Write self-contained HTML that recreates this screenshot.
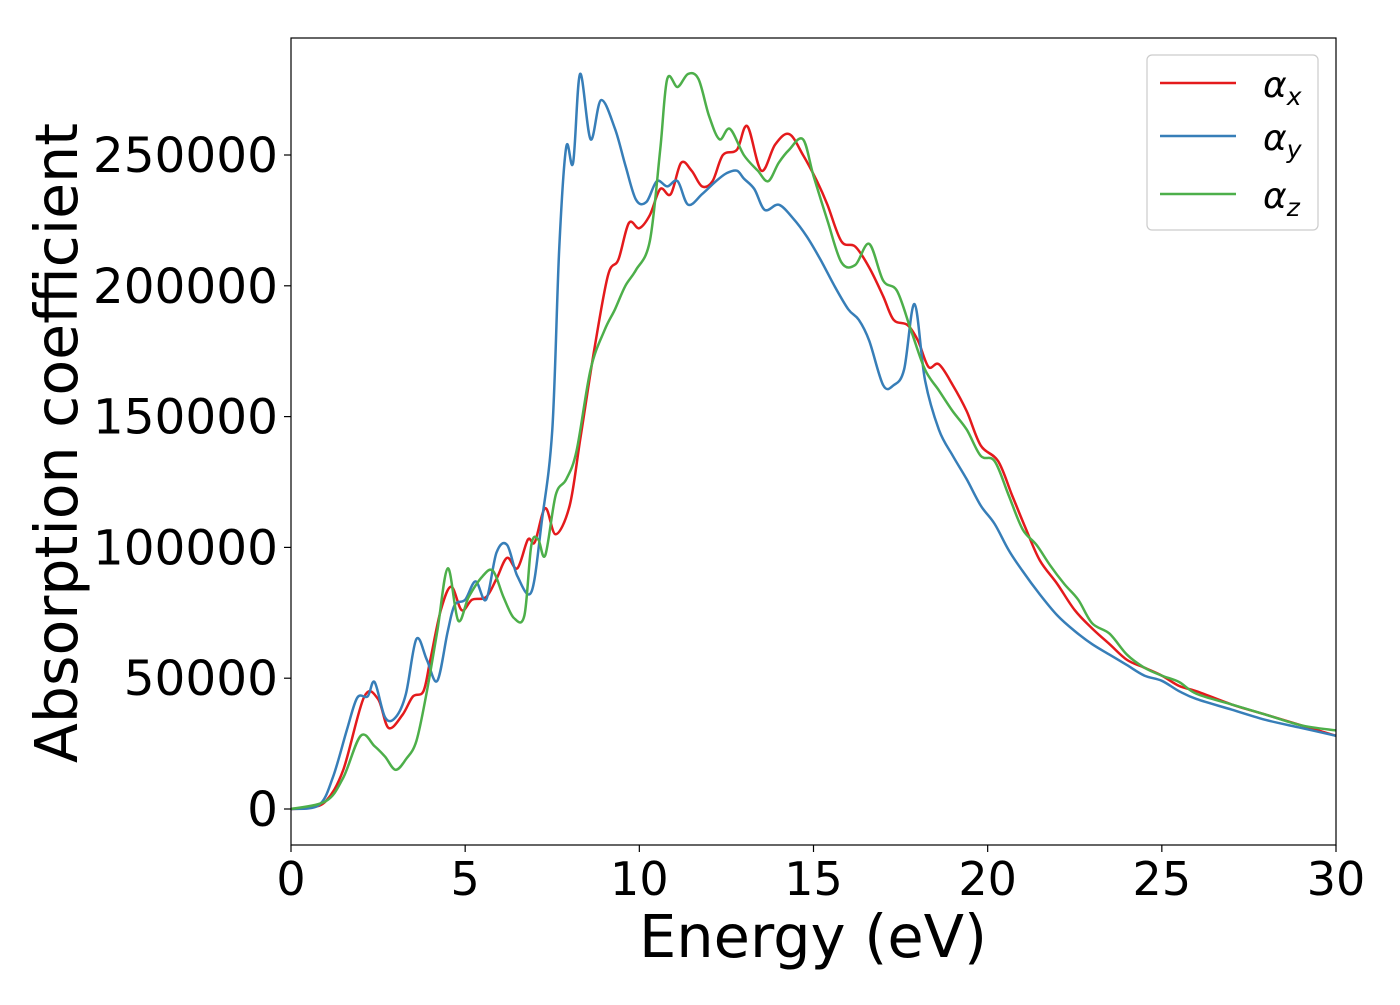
<!DOCTYPE html>
<html><head><meta charset="utf-8"><style>
html,body{margin:0;padding:0;background:#fff;}
svg text{font-family:"DejaVu Sans","Liberation Sans",sans-serif;}
</style></head><body>
<svg id="chart" width="1400" height="1000" xmlns="http://www.w3.org/2000/svg">
<rect width="1400" height="1000" fill="#fff"/>
<g id="series"></g>
<rect x="291" y="38" width="1045" height="807" fill="none" stroke="#000" stroke-width="1.2"/>
<g id="xticks"></g>
<g id="yticks"></g>
<text x="813" y="957" font-size="59" text-anchor="middle">Energy (eV)</text>
<text transform="translate(77,443) rotate(-90)" font-size="58.5" text-anchor="middle">Absorption coefficient</text>
<g>
<rect x="1147" y="55" width="171" height="175" rx="5" fill="#fff" stroke="#ccc" stroke-width="1.2"/>
<line x1="1160" y1="83" x2="1236" y2="83" stroke="#e41a1c" stroke-width="2.5"/>
<text x="1263" y="97" font-size="36" font-style="italic">α<tspan font-size="25" dy="8">x</tspan></text>
<line x1="1160" y1="136" x2="1236" y2="136" stroke="#377eb8" stroke-width="2.5"/>
<text x="1263" y="150" font-size="36" font-style="italic">α<tspan font-size="25" dy="8">y</tspan></text>
<line x1="1160" y1="194" x2="1236" y2="194" stroke="#4daf4a" stroke-width="2.5"/>
<text x="1263" y="208" font-size="36" font-style="italic">α<tspan font-size="25" dy="8">z</tspan></text>
</g>
</svg>
<script>
const xTicks=[0,5,10,15,20,25,30];
const yTicks=[0,50000,100000,150000,200000,250000];
const exE=[0,0.5,1,1.5,2.1,2.5,2.8,3.2,3.5,3.8,4.0,4.3,4.6,4.9,5.2,5.6,5.9,6.2,6.5,6.8,7.0,7.3,7.6,8.0,8.3,8.7,9.1,9.4,9.7,10,10.3,10.6,10.9,11.2,11.5,11.8,12.1,12.4,12.8,13.1,13.5,13.9,14.3,14.7,15.1,15.4,15.8,16.2,16.6,17,17.3,17.7,18,18.3,18.6,19,19.4,19.8,20.3,20.7,21.1,21.5,22,22.5,23,23.5,24,24.5,25,25.5,26,27,28,29,30];
const exV=[0,500,3000,15000,42800,42000,31000,36000,43000,45000,57000,76000,85000,76000,80000,81000,88000,96000,92000,103000,102000,115000,105000,116000,141000,175000,204000,210000,224000,222000,227000,237000,235000,247000,244000,238000,240000,250000,252000,261000,244000,254000,258000,250000,240000,231000,217000,215000,207000,196000,187000,185000,179000,169000,170000,162000,152000,139000,133000,120000,107000,95000,86000,76000,69000,63000,57000,54000,51000,47000,45000,40000,36000,32000,28000];
const eyE=[0,0.8,1.2,1.6,1.9,2.2,2.4,2.7,3.0,3.3,3.6,3.9,4.2,4.5,4.7,5.0,5.3,5.6,5.9,6.2,6.5,6.9,7.2,7.5,7.7,7.9,8.1,8.3,8.6,8.9,9.3,9.6,9.9,10.2,10.5,10.8,11.1,11.4,11.8,12.2,12.5,12.8,13.0,13.3,13.6,14.0,14.4,14.8,15.2,15.6,16,16.3,16.6,17,17.3,17.6,17.9,18.2,18.6,19,19.4,19.8,20.2,20.6,21,21.5,22,22.5,23,23.5,24,24.5,25,25.5,26,27,28,29,30];
const eyV=[0,1500,12000,30000,42500,43000,48500,35000,35000,44000,65000,57000,49000,68000,78000,80000,87000,80000,98000,101000,89000,83000,110000,145000,214000,253000,247000,281000,256000,271000,260000,246000,233000,232000,240000,238000,240000,231000,235000,240000,243000,244000,241000,237000,229000,231000,226000,219000,210000,200000,191000,187000,179000,162000,162000,168000,193000,164000,145000,135000,126000,116000,109000,99000,91000,82000,74000,68000,63000,59000,55000,51000,49000,45000,42000,38000,34000,31000,28000];
const ezE=[0,1,1.5,2.0,2.4,2.7,3.0,3.3,3.6,3.9,4.2,4.5,4.8,5.1,5.5,5.8,6.1,6.4,6.7,6.9,7.1,7.3,7.6,7.9,8.2,8.6,9.0,9.3,9.6,9.9,10.3,10.6,10.8,11.1,11.4,11.7,12.0,12.3,12.6,13.0,13.4,13.7,14.0,14.3,14.7,15.0,15.4,15.8,16.2,16.6,17.0,17.4,17.8,18.2,18.6,19,19.4,19.8,20.2,20.6,21,21.4,21.8,22.2,22.6,23,23.5,24,24.5,25,25.5,26,27,28,29,30];
const ezV=[0,3000,12000,28000,24000,20000,15000,19000,26000,45000,68000,92000,72000,81000,89000,91000,81000,73000,74000,101000,103000,97000,120000,126000,137000,168000,183000,191000,200000,206000,217000,252000,279000,276000,281000,279000,265000,256000,260000,250000,244000,240000,247000,252000,256000,242000,225000,209000,208000,216000,202000,198000,183000,168000,160000,152000,145000,135000,133000,120000,107000,101000,93000,86000,80000,71000,67000,59000,54000,51000,48500,44000,40000,36000,32000,30000];
const X0=291,X1=1336,Y0=809,YS=654/250000;
function xs(e){return X0+(X1-X0)*e/30;}
function ys(v){return Y0-v*YS;}
const NS="http://www.w3.org/2000/svg";
const series=document.getElementById('series');
function smoothPath(E,V){
  const p=E.map((e,i)=>[xs(e),ys(V[i])]);
  let d='M'+p[0][0].toFixed(1)+','+p[0][1].toFixed(1);
  for(let i=0;i<p.length-1;i++){
    const a=p[Math.max(0,i-1)],b=p[i],c=p[i+1],n=p[Math.min(p.length-1,i+2)];
    const c1=[b[0]+(c[0]-a[0])/6,b[1]+(c[1]-a[1])/6],c2=[c[0]-(n[0]-b[0])/6,c[1]-(n[1]-b[1])/6];
    d+=' C'+c1[0].toFixed(1)+','+c1[1].toFixed(1)+' '+c2[0].toFixed(1)+','+c2[1].toFixed(1)+' '+c[0].toFixed(1)+','+c[1].toFixed(1);
  }
  return d;
}
function addLine(E,V,col,name){
  const el=document.createElementNS(NS,'path');
  el.setAttribute('d',smoothPath(E,V));
  el.setAttribute('fill','none');el.setAttribute('stroke',col);el.setAttribute('stroke-width','2.5');
  
  
  series.appendChild(el);
}
addLine(exE,exV,'#e41a1c','series-alpha-x');
addLine(eyE,eyV,'#377eb8','series-alpha-y');
addLine(ezE,ezV,'#4daf4a','series-alpha-z');
const xg=document.getElementById('xticks');
xTicks.forEach(t=>{
  const l=document.createElementNS(NS,'line');
  l.setAttribute('x1',xs(t));l.setAttribute('x2',xs(t));l.setAttribute('y1',845);l.setAttribute('y2',852);l.setAttribute('stroke','#000');l.setAttribute('stroke-width','1.2');
  
  
  xg.appendChild(l);
  const tx=document.createElementNS(NS,'text');
  tx.setAttribute('x',xs(t));tx.setAttribute('y',895);tx.setAttribute('font-size','46');tx.setAttribute('text-anchor','middle');
  tx.textContent=t;
  
  
  xg.appendChild(tx);
});
const yg=document.getElementById('yticks');
yTicks.forEach(t=>{
  const l=document.createElementNS(NS,'line');
  l.setAttribute('x1',284);l.setAttribute('x2',291);l.setAttribute('y1',ys(t));l.setAttribute('y2',ys(t));l.setAttribute('stroke','#000');l.setAttribute('stroke-width','1.2');
  
  
  yg.appendChild(l);
  const tx=document.createElementNS(NS,'text');
  tx.setAttribute('x',278);tx.setAttribute('y',ys(t)+17);tx.setAttribute('font-size','48.5');tx.setAttribute('text-anchor','end');
  tx.textContent=t;
  
  
  yg.appendChild(tx);
});
</script>
</body></html>
